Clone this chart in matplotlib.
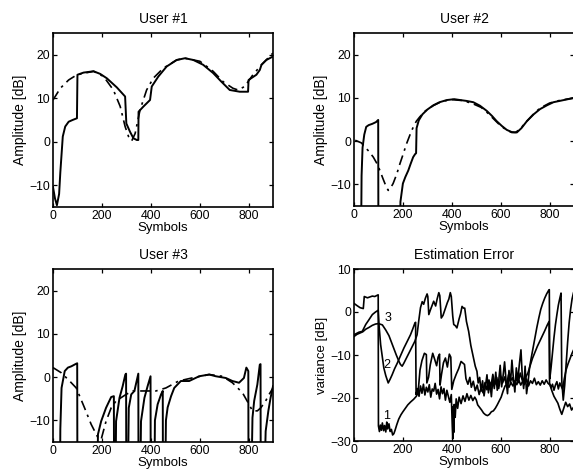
import matplotlib
matplotlib.use('Agg')
import matplotlib.pyplot as plt

plt.rcParams['font.family'] = ['Liberation Sans', 'DejaVu Sans']
plt.rcParams['axes.unicode_minus'] = True

# ---------------- User #1 ----------------
u1_x = [0, 8, 16, 25, 30, 40, 50, 64, 80, 98, 100, 125, 166, 193, 220, 261, 295, 300,
        315, 329, 343, 349, 350, 370, 397, 404, 431, 465, 506, 540, 574, 614, 655, 689,
        723, 764, 798, 800, 832, 846, 853, 873, 900]
u1_y = [-10.4, -13.0, -14.6, -12.0, -7.0, 1.2, 3.5, 4.6, 5.0, 5.4, 15.4, 15.9, 16.2, 15.6,
        14.6, 12.5, 10.4, 4.2, 2.3, 0.8, 0.4, 0.4, 6.9, 8.1, 9.6, 12.7, 15.0, 17.3, 18.8,
        19.2, 18.8, 17.7, 15.8, 13.8, 11.9, 11.5, 11.5, 14.2, 15.4, 16.5, 17.7, 18.8, 19.6]
u1_ref_x = [0, 30, 64, 98, 166, 207, 247, 275, 295, 309, 322, 336, 356, 383, 410, 451,
            506, 540, 601, 655, 696, 736, 757, 784, 818, 853, 886, 900]
u1_ref_y = [9.6, 12.3, 14.2, 15.4, 16.2, 15.0, 11.9, 8.1, 3.5, 1.2, 0.2, 1.9, 7.3, 11.9,
            14.6, 16.9, 18.8, 19.2, 18.5, 16.2, 13.8, 12.3, 11.9, 12.7, 15.4, 17.7, 19.6, 20.4]

# ---------------- User #2 ----------------
u2_x = [28, 31, 35, 42, 50, 60, 75, 90, 99, 100, 186, 190, 200, 210, 222, 232, 242, 250,
        254, 256, 265, 280, 300, 325, 350, 380, 410, 434, 460, 488, 515, 543, 565, 584,
        605, 625, 645, 666, 685, 707, 735, 761, 790, 816, 850, 884, 900]
u2_y = [-30, -8.0, -1.5, 1.5, 3.3, 3.7, 4.0, 4.4, 4.9, -30, -30, -14.0, -9.8, -8.3, -6.8,
        -5.2, -3.7, -3.0, -2.8, 3.0, 4.8, 6.2, 7.3, 8.3, 9.0, 9.5, 9.7, 9.5, 9.3, 9.0, 8.2,
        7.0, 5.8, 4.6, 3.5, 2.6, 2.1, 2.0, 3.0, 4.6, 6.2, 7.4, 8.3, 9.0, 9.4, 9.8, 10.0]
u2_ref_x = [5, 30, 45, 60, 79, 95, 106, 118, 130, 140, 150, 160, 175, 188, 200, 215, 230,
            242, 255, 269, 290, 324, 360, 400, 440, 480, 520, 545, 570, 595, 620, 645, 660,
            680, 700, 730, 760, 800, 840, 880, 900]
u2_ref_y = [0.2, -0.4, -1.4, -2.3, -3.7, -5.3, -6.8, -8.6, -10.3, -11.4, -10.8, -9.8, -7.6,
            -5.2, -3.2, -0.6, 1.6, 3.2, 4.6, 5.6, 6.9, 8.2, 9.2, 9.6, 9.4, 8.8, 7.8, 6.6,
            5.2, 3.8, 2.7, 2.0, 2.0, 2.8, 4.2, 6.0, 7.6, 8.8, 9.4, 9.8, 10.0]

# ---------------- User #3 ----------------
u3_x = [28, 30, 35, 48, 61, 75, 95, 99, 100, 179, 184, 197, 217, 238, 249, 250, 255, 258,
        272, 285, 296, 299, 300, 305, 310, 320, 333, 349, 350, 356, 360, 374, 387, 399,
        400, 414, 417, 428, 442, 449, 450, 458, 462, 469, 483, 496, 523, 557, 598, 639,
        666, 707, 734, 761, 781, 791, 799, 800, 810, 816, 823, 836, 846, 849, 850, 862,
        870, 881, 890, 900]
u3_y = [-30, -12.0, -2.5, 1.4, 2.2, 2.5, 3.1, 3.2, -30, -30, -13.2, -10.2, -7.1, -4.6,
        -4.4, -30, -30, -10.2, -4.8, -2.1, 0.6, 0.8, -30, -30, -7.1, -4.0, -3.2, 0.8, -30,
        -30, -10.2, -4.8, -2.1, 0.2, -30, -30, -10.0, -6.3, -4.0, -3.2, -30, -30, -10.0,
        -7.0, -4.4, -2.5, -0.9, -0.9, 0.2, 0.6, 0.2, -0.2, -0.9, -1.3, -0.2, 2.2, 1.4,
        -30, -30, -9.4, -5.5, -1.7, 2.9, 3.0, -30, -30, -12.5, -7.8, -4.8, -2.1]
u3_ref_x = [0, 34, 68, 95, 129, 156, 184, 197, 217, 238, 258, 299, 326, 367, 421, 462,
            514, 568, 639, 693, 734, 775, 802, 816, 836, 850, 870, 884, 900]
u3_ref_y = [2.2, 1.0, -0.9, -2.5, -7.1, -10.9, -14.0, -14.4, -10.2, -7.1, -5.5, -4.0, -3.2,
            -3.2, -3.2, -2.5, -0.9, -0.2, 0.6, 0.2, -1.3, -3.6, -6.3, -7.8, -7.8, -7.1,
            -5.5, -4.0, -2.5]

# ---------------- Estimation error ----------------
e1_x = [0, 12, 25, 38, 42, 55, 65, 75, 85, 99, 100, 104, 108, 112, 116, 121, 125, 130,
        134, 138, 143, 148, 153, 158, 163, 168, 175, 183, 192, 200, 210, 220, 232, 244,
        255, 262, 270, 278, 288, 296, 298, 305, 312, 322, 330, 338, 344, 350, 352, 358,
        366, 374, 382, 390, 396, 400, 408, 418, 428, 438, 446, 452, 458, 466, 474, 480,
        488, 496, 504, 512, 520, 528, 536, 544, 552, 560, 568, 576, 584, 592, 600, 608,
        616, 624, 632, 640, 648, 656, 664, 672, 680, 688, 696, 704, 712, 720, 730, 740,
        750, 760, 770, 780, 790, 798, 800, 806, 812, 818, 824, 830, 836, 842, 848, 854,
        860, 868, 876, 884, 892, 900]
e1_y = [2.0, 1.5, 1.0, 0.8, 3.6, 3.3, 3.5, 3.7, 3.6, 4.0, -26.5, -27.8, -26.3, -27.5,
        -25.8, -27.6, -26.4, -27.9, -25.6, -27.2, -26.0, -27.8, -27.3, -28.6, -28.3,
        -27.5, -26.2, -24.9, -23.9, -23.2, -22.4, -21.6, -20.9, -20.3, -19.6, -18.8,
        -13.5, -11.3, -9.6, -9.9, -16.5, -15.2, -12.3, -9.6, -11.0, -12.5, -10.5, -9.8,
        -17.0, -14.5, -11.8, -10.7, -12.8, -9.8, -10.5, -18.0, -16.0, -14.5, -13.2,
        -11.5, -11.9, -12.2, -15.5, -16.8, -15.2, -17.5, -16.1, -18.3, -17.0, -19.2,
        -17.6, -18.8, -16.4, -18.1, -15.8, -17.4, -14.5, -16.9, -15.2, -17.8, -14.9,
        -16.5, -15.1, -17.2, -14.6, -16.0, -15.3, -17.1, -15.5, -16.4, -14.2, -15.8,
        -16.9, -15.0, -14.1, -12.6, -10.8, -9.4, -8.0, -6.8, -5.6, -4.4, -3.1, -2.2,
        -16.5, -17.6, -16.8, -18.2, -17.0, -16.2, -17.9, -16.5, -17.3, -18.0, -15.6,
        -13.4, -12.0, -10.8, -9.6, -8.6]

e2_x = [0, 10, 20, 34, 48, 60, 75, 88, 99, 103, 109, 116, 122, 130, 140, 148, 156, 166,
        177, 190, 204, 218, 231, 240, 249, 252, 254, 260, 266, 272, 278, 284, 290, 296,
        302, 308, 314, 320, 326, 332, 338, 344, 350, 356, 362, 368, 374, 380, 386, 392,
        398, 402, 404, 406, 408, 410, 414, 418, 424, 430, 438, 446, 454, 462, 470, 478,
        486, 494, 500, 506, 514, 522, 530, 538, 546, 554, 562, 570, 578, 586, 594, 602,
        610, 618, 626, 634, 642, 650, 658, 666, 674, 682, 690, 698, 706, 714, 722, 730,
        738, 746, 754, 762, 770, 778, 786, 794, 802, 810, 818, 826, 834, 842, 850, 858,
        866, 874, 882, 890, 900]
e2_y = [-5.3, -5.0, -4.7, -4.5, -2.9, -1.9, -0.6, 0.0, 0.4, -3.5, -7.6, -10.5, -13.0,
        -14.8, -16.5, -15.6, -14.6, -13.2, -11.9, -10.2, -8.4, -6.8, -5.3, -4.0, -2.6,
        -2.4, -19.2, -17.8, -19.6, -17.2, -18.9, -16.8, -19.3, -17.5, -18.6, -16.9,
        -19.8, -17.9, -18.4, -16.6, -19.1, -18.0, -20.2, -17.4, -19.0, -17.8, -20.5,
        -18.2, -19.6, -21.0, -19.2, -26.5, -29.5, -22.0, -28.0, -21.5, -24.5, -20.2,
        -22.4, -19.8, -21.3, -19.5, -20.8, -19.0, -20.5, -19.4, -20.6, -19.8, -20.4,
        -21.6, -22.2, -22.8, -23.5, -23.9, -24.1, -23.8, -23.2, -23.0, -22.4, -21.6,
        -20.7, -19.8, -18.4, -17.2, -16.8, -17.5, -16.4, -17.2, -16.0, -16.9, -15.8,
        -17.0, -16.1, -16.8, -15.6, -17.2, -16.0, -16.6, -15.4, -16.9, -16.2, -17.0,
        -16.0, -16.8, -15.8, -16.6, -17.0, -18.4, -19.6, -20.4, -21.2, -22.6, -23.8,
        -22.4, -21.0, -22.0, -21.4, -22.8, -22.0]

e3_x = [0, 12, 24, 36, 48, 61, 75, 88, 100, 116, 130, 143, 153, 163, 173, 184, 190, 197,
        204, 211, 221, 231, 240, 249, 258, 265, 272, 279, 285, 292, 299, 302, 306, 312,
        320, 326, 334, 340, 347, 351, 357, 364, 374, 382, 388, 394, 398, 404, 408, 415,
        421, 430, 436, 442, 448, 453, 460, 469, 478, 489, 496, 503, 508, 514, 520, 526,
        532, 538, 544, 550, 556, 562, 568, 574, 580, 586, 592, 598, 604, 610, 616, 622,
        628, 634, 640, 646, 652, 658, 664, 670, 676, 683, 688, 694, 700, 706, 712, 718,
        724, 732, 740, 748, 756, 764, 772, 780, 788, 796, 799, 801, 806, 812, 818, 824,
        830, 836, 842, 847, 850, 856, 862, 868, 874, 880, 886, 892, 898, 900]
e3_y = [-5.7, -5.2, -4.9, -4.6, -4.0, -3.6, -3.1, -2.8, -2.7, -3.0, -4.2, -5.5, -7.0,
        -8.5, -10.0, -11.5, -12.2, -12.6, -11.9, -11.1, -10.0, -8.8, -7.8, -6.8, -5.3,
        -2.0, 1.0, 2.4, 1.8, 3.2, 4.2, 3.6, -0.6, 0.4, 1.6, 2.5, 1.4, 3.0, 4.5, 3.8,
        -1.4, -0.8, 0.9, 2.2, 3.0, 4.5, 3.6, -1.0, -2.9, -3.2, -3.7, -1.6, -0.4, 1.3,
        0.9, 0.9, -2.2, -4.5, -7.8, -10.7, -12.6, -13.8, -16.5, -15.2, -18.4, -16.0,
        -19.5, -17.2, -14.6, -18.8, -16.4, -19.7, -15.5, -17.8, -14.0, -18.2, -16.0,
        -12.4, -17.4, -14.8, -11.6, -15.9, -19.0, -13.6, -16.8, -11.2, -15.4, -18.6,
        -13.0, -16.2, -12.4, -8.8, -14.5, -17.8, -12.6, -19.0, -16.4, -13.0, -11.0,
        -8.5, -6.0, -3.6, -1.4, 0.6, 2.0, 3.2, 4.2, 5.0, 5.2, -15.5, -13.0, -9.5, -6.0,
        -3.0, -0.6, 1.6, 3.2, 4.4, -16.0, -20.5, -17.0, -12.0, -7.0, -2.6, 0.6, 3.0,
        4.5, 4.8]

amp_ticks = [-10, 0, 10, 20]
err_ticks = [-30, -20, -10, 0, 10]
sym_ticks = [0, 200, 400, 600, 800]

W, H = 573, 475
fig = plt.figure(figsize=(W / 100, H / 100), dpi=100)

dashdot = (0, (6, 3, 1.5, 3))


def setup(ax, title, ylabel, ylim, yticks, ylab_size=10):
    ax.set_xlim(0, 900)
    ax.set_ylim(*ylim)
    ax.set_xticks(sym_ticks)
    ax.set_yticks(yticks)
    ax.tick_params(direction='in', top=True, right=True, length=3, width=0.9,
                   labelsize=8.8, pad=2)
    for s in ax.spines.values():
        s.set_linewidth(1.2)
    ax.set_title(title, fontsize=10, pad=7)
    ax.set_xlabel('Symbols', fontsize=9.5, labelpad=0)
    ax.set_ylabel(ylabel, fontsize=ylab_size, labelpad=2)


pos = {
    'tl': [53 / W, 1 - 207 / H, 220 / W, 174 / H],
    'tr': [354 / W, 1 - 206 / H, 220 / W, 173 / H],
    'bl': [53 / W, 1 - 442 / H, 220 / W, 173 / H],
    'br': [354 / W, 1 - 441 / H, 220 / W, 172 / H],
}

ax1 = fig.add_axes(pos['tl'])
ax1.plot(u1_x, u1_y, color='k', lw=1.4)
ax1.plot(u1_ref_x, u1_ref_y, color='k', lw=1.2, linestyle=dashdot)
setup(ax1, 'User #1', 'Amplitude [dB]', (-15, 25), amp_ticks)

ax2 = fig.add_axes(pos['tr'])
ax2.plot(u2_x, u2_y, color='k', lw=1.4)
ax2.plot(u2_ref_x, u2_ref_y, color='k', lw=1.2, linestyle=dashdot)
setup(ax2, 'User #2', 'Amplitude [dB]', (-15, 25), amp_ticks)

ax3 = fig.add_axes(pos['bl'])
ax3.plot(u3_x, u3_y, color='k', lw=1.4)
ax3.plot(u3_ref_x, u3_ref_y, color='k', lw=1.2, linestyle=dashdot)
setup(ax3, 'User #3', 'Amplitude [dB]', (-15, 25), amp_ticks)

ax4 = fig.add_axes(pos['br'])
ax4.plot(e1_x, e1_y, color='k', lw=1.2)
ax4.plot(e2_x, e2_y, color='k', lw=1.2)
ax4.plot(e3_x, e3_y, color='k', lw=1.2)
ax4.text(138, -1.5, '3', fontsize=9, ha='center', va='center')
ax4.text(135, -12.3, '2', fontsize=9, ha='center', va='center')
ax4.text(134, -24.3, '1', fontsize=9, ha='center', va='center')
setup(ax4, 'Estimation Error', 'variance [dB]', (-30, 10), err_ticks, ylab_size=9.5)

fig.savefig('out.png', dpi=100)
